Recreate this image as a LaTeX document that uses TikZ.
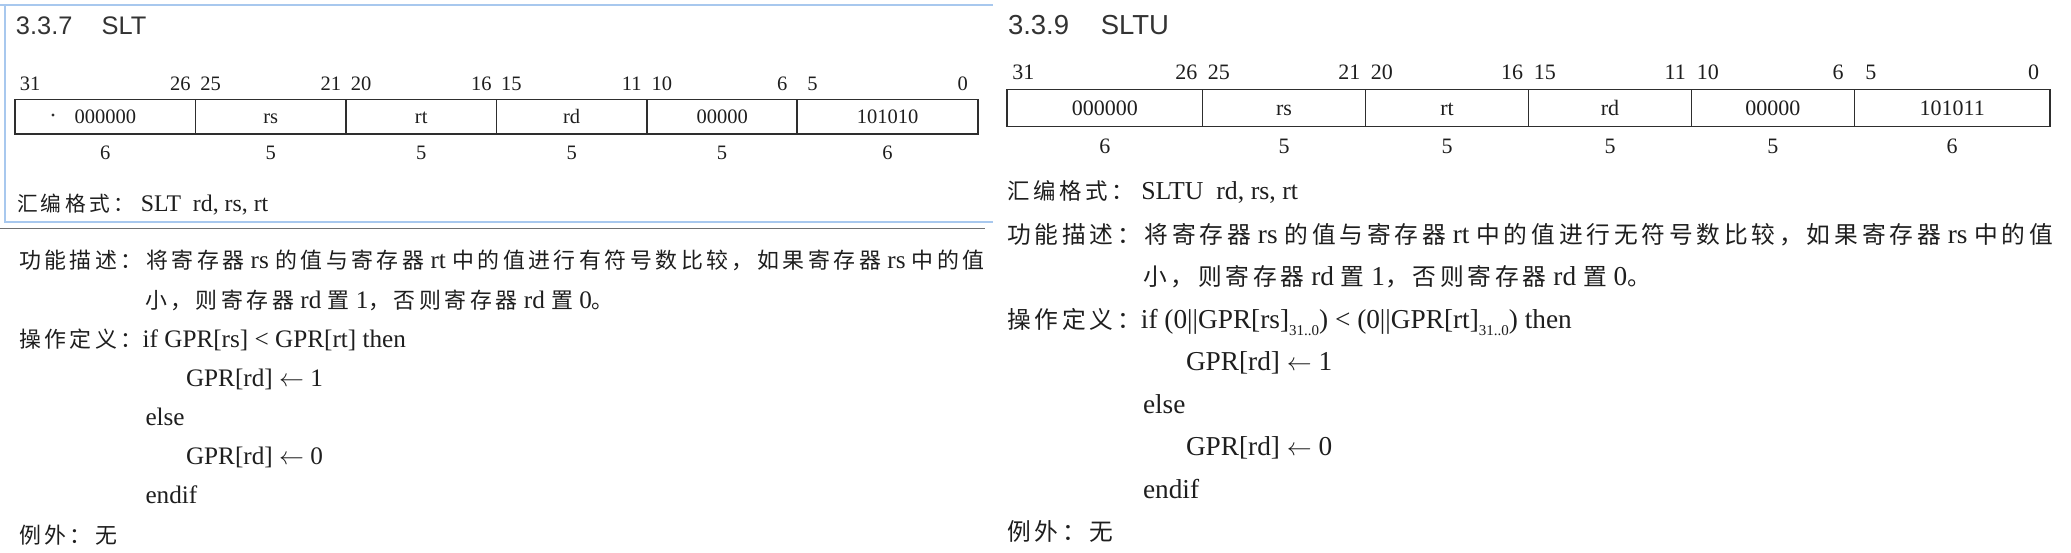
\documentclass[tikz,border=0pt]{standalone}
\usepackage{fontspec}
\usepackage{graphicx}
\setmainfont{Liberation Serif}
\newfontfamily\cjk[Scale=0.87,LetterSpace=16]{Noto Sans CJK SC}
\newfontfamily\hd{Liberation Sans}
\newcommand\zh[1]{{\cjk #1}}
\newcommand\fsz[1]{\fontsize{#1}{#1}\selectfont}
\newcommand\bitsub{\raisebox{-0.25em}{\fsz{15}31..0}}
\definecolor{ink}{HTML}{1E1E1E}
\definecolor{boxc}{HTML}{2E2E2E}
\definecolor{headc}{HTML}{333333}
\definecolor{frameblue}{HTML}{A8C8EE}
\definecolor{framegrey}{HTML}{707070}
\tikzset{
  txt/.style={inner sep=0pt, outer sep=0pt, anchor=base west, text=ink},
  num/.style={inner sep=0pt, outer sep=0pt, anchor=base, text=ink},
  fieldL/.style={draw=boxc, line width=1.8pt, inner sep=0pt, outer sep=0pt,
    anchor=north west, minimum height=34.5pt, text height=14pt, text depth=0pt,
    text=ink, font=\fsz{20.5}},
  fieldR/.style={draw=boxc, line width=1.8pt, inner sep=0pt, outer sep=0pt,
    anchor=north west, minimum height=37pt, text height=16pt, text depth=0pt,
    text=ink, font=\fsz{22}},
}
\begin{document}
\begin{tikzpicture}[x=1pt,y=-1pt]
\useasboundingbox (0,0) rectangle (2071,553);
\fill[white] (0,0) rectangle (2071,553);

% ---------- left screenshot frame ----------
\draw[frameblue, line width=2.5pt] (0,5) -- (993,5);
\draw[frameblue, line width=2.5pt] (5,5) -- (5,222) -- (993,222);
\draw[framegrey, line width=1.5pt] (0,228.5) -- (985,228.5);

% ---------- left: SLT ----------
\node[txt, font=\hd\fsz{25.4}, text=headc] (lt) at (16,34.5) {3.3.7\hspace{1.15em}SLT};
\foreach \b in {31,26,25,21,20,16,15,11,10,6,5,0}
  \node[num, font=\fsz{20.5}] (lb\b) at ({15+(31.5-\b)*30.09},91) {\b};
\node[fieldL, minimum width=180.54pt] (lf1) at (15,99.5) {000000};
\node[fieldL, minimum width=150.45pt] (lf2) at (lf1.north east) {rs};
\node[fieldL, minimum width=150.45pt] (lf3) at (lf2.north east) {rt};
\node[fieldL, minimum width=150.45pt] (lf4) at (lf3.north east) {rd};
\node[fieldL, minimum width=150.45pt] (lf5) at (lf4.north east) {00000};
\node[fieldL, minimum width=180.54pt] (lf6) at (lf5.north east) {101010};
\fill[boxc] (53,115) circle (1.6);
\foreach \i/\w in {1/6,2/5,3/5,4/5,5/5,6/6}
  \node[num, font=\fsz{20.5}] (lw\i) at (lf\i.center |- 0,160) {\w};
\node[txt, font=\fsz{23.8}] (lasm) at (17,211.7) {\zh{汇编格式：}\hspace{0.3em}SLT\hspace{0.5em}rd, rs, rt};

\node[txt, font=\fsz{25.2}] (l1) at (19,269) {\zh{功能描述：将寄存器} rs \zh{的值与寄存器} rt \zh{中的值进行有符号数比较，如果寄存器} rs \zh{中的值}};
\node[txt, font=\fsz{25.2}] (l2) at (145,308.1) {\zh{小，则寄存器} rd \zh{置} 1\zh{，否则寄存器} rd \zh{置} 0\zh{。}};
\node[txt, font=\fsz{25.2}] (l3) at (19,347.3) {\zh{操作定义：}if GPR[rs] < GPR[rt] then};
\node[txt, font=\fsz{25.2}] (l4) at (186,386.4) {GPR[rd] $\leftarrow$ 1};
\node[txt, font=\fsz{25.2}] (l5) at (145.5,425.6) {else};
\node[txt, font=\fsz{25.2}] (l6) at (186,464.7) {GPR[rd] $\leftarrow$ 0};
\node[txt, font=\fsz{25.2}] (l7) at (145.5,503.8) {endif};
\node[txt, font=\fsz{25.2}] (l8) at (19,543) {\zh{例外：无}};

% ---------- right: SLTU ----------
\node[txt, font=\hd\fsz{27.5}, text=headc] (rt) at (1008,34.5) {3.3.9\hspace{1.15em}SLTU};
\foreach \b in {31,26,25,21,20,16,15,11,10,6,5,0}
  \node[num, font=\fsz{22}] (rb\b) at ({1007+(31.5-\b)*32.594},79.3) {\b};
\node[fieldR, minimum width=195.56pt] (rf1) at (1007,89.5) {000000};
\node[fieldR, minimum width=162.97pt] (rf2) at (rf1.north east) {rs};
\node[fieldR, minimum width=162.97pt] (rf3) at (rf2.north east) {rt};
\node[fieldR, minimum width=162.97pt] (rf4) at (rf3.north east) {rd};
\node[fieldR, minimum width=162.97pt] (rf5) at (rf4.north east) {00000};
\node[fieldR, minimum width=195.56pt] (rf6) at (rf5.north east) {101011};
\foreach \i/\w in {1/6,2/5,3/5,4/5,5/5,6/6}
  \node[num, font=\fsz{22}] (rw\i) at (rf\i.center |- 0,153.3) {\w};
\node[txt, font=\fsz{25.8}] (rasm) at (1007,200) {\zh{汇编格式：}\hspace{0.3em}SLTU\hspace{0.5em}rd, rs, rt};

\node[txt, font=\fsz{27.3}] (r1) at (1007,243.4) {\zh{功能描述：将寄存器} rs \zh{的值与寄存器} rt \zh{中的值进行无符号数比较，如果寄存器} rs \zh{中的值}};
\node[txt, font=\fsz{27.3}] (r2) at (1143,285.9) {\zh{小，则寄存器} rd \zh{置} 1\zh{，否则寄存器} rd \zh{置} 0\zh{。}};
\node[txt, font=\fsz{27.3}] (r3) at (1007,328.3) {\zh{操作定义：}if (0||GPR[rs]\bitsub) < (0||GPR[rt]\bitsub) then};
\node[txt, font=\fsz{27.3}] (r4) at (1186,370.8) {GPR[rd] $\leftarrow$ 1};
\node[txt, font=\fsz{27.3}] (r5) at (1143,413.2) {else};
\node[txt, font=\fsz{27.3}] (r6) at (1186,455.7) {GPR[rd] $\leftarrow$ 0};
\node[txt, font=\fsz{27.3}] (r7) at (1143,498.1) {endif};
\node[txt, font=\fsz{27.3}] (r8) at (1007,540.6) {\zh{例外：无}};
\end{tikzpicture}
\end{document}
